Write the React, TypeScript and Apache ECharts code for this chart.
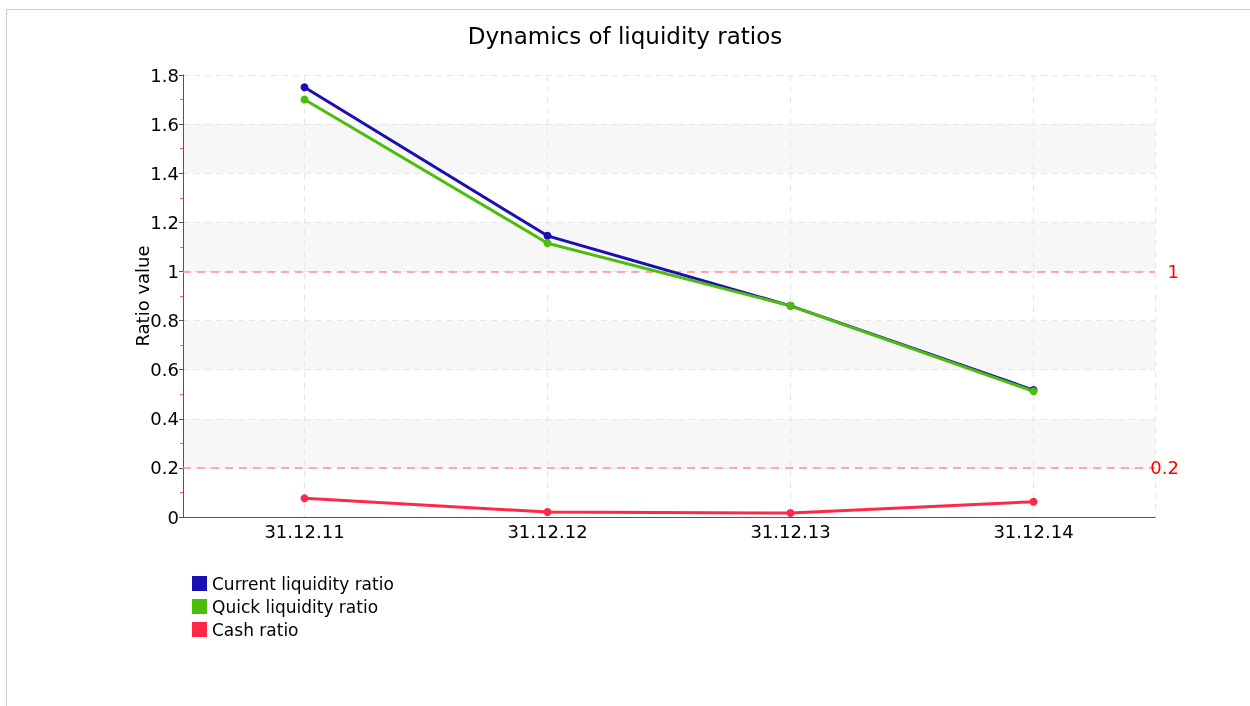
import React, { useEffect, useRef } from "react";
import * as echarts from "echarts";

const categories = ["31.12.11", "31.12.12", "31.12.13", "31.12.14"];
const currentRatio = [1.75, 1.145, 0.86, 0.517];
const quickRatio = [1.70, 1.115, 0.86, 0.512];
const cashRatio = [0.076, 0.02, 0.016, 0.062];
const thresholds = [1, 0.2];
const seriesNames = ["Current liquidity ratio", "Quick liquidity ratio", "Cash ratio"];
const colors = ["#1a0fb0", "#4dbd0c", "#ff2848"];

const FONT = "DejaVu Sans, Verdana, sans-serif";

export default function App() {
  const ref = useRef<HTMLDivElement>(null);
  useEffect(() => {
    if (!ref.current) return;
    const chart = echarts.init(ref.current, null, { renderer: "svg" });
    const datasets = [currentRatio, quickRatio, cashRatio];
    const series: any[] = datasets.map((d, i) => ({
      name: seriesNames[i],
      type: "line",
      data: d,
      symbol: "circle",
      symbolSize: 8,
      lineStyle: { width: 3, color: colors[i] },
      itemStyle: { color: colors[i] },
      z: 3,
    }));
    series[2].markLine = {
      silent: true,
      symbol: "none",
      lineStyle: { color: "#ff9090", type: [8, 6], width: 1.5, opacity: 1 },
      label: {
        position: "end",
        color: "#ff0000",
        fontSize: 18,
        fontFamily: FONT,
        align: "right",
        distance: 24,
        formatter: (p: any) => String(p.value),
      },
      data: thresholds.map((t) => ({ yAxis: t })),
      z: 2,
    };
    // Half-step placeholder categories used only to place vertical grid lines at category centres
    const halfSteps = categories.flatMap((c) => [c + "a", c + "b"]);
    chart.setOption({
      animation: false,
      backgroundColor: "transparent",
      textStyle: { fontFamily: FONT },
      title: {
        text: "Dynamics of liquidity ratios",
        left: "center",
        top: 19,
        textStyle: { fontSize: 23, fontWeight: "normal", color: "#000", fontFamily: FONT },
      },
      legend: {
        orient: "vertical",
        left: 187,
        top: 570,
        itemWidth: 15,
        itemHeight: 15,
        itemGap: 6,
        icon: "rect",
        textStyle: { fontSize: 17, color: "#000", fontFamily: FONT },
        data: seriesNames.map((n, i) => ({ name: n, itemStyle: { color: colors[i] } })),
      },
      grid: { left: 183, right: 95, top: 75, bottom: 189, containLabel: false },
      xAxis: [
        {
          type: "category",
          data: categories,
          boundaryGap: true,
          axisLine: { lineStyle: { color: "#555", width: 1 } },
          axisTick: { alignWithLabel: true, length: 5, lineStyle: { color: "#555" } },
          axisLabel: { fontSize: 18, color: "#000", fontFamily: FONT, margin: 5 },
          splitLine: { show: false },
          z: 5,
        },
        {
          type: "category",
          data: halfSteps,
          boundaryGap: true,
          position: "bottom",
          axisLine: { show: false },
          axisTick: { show: false },
          axisLabel: { show: false },
          splitLine: {
            show: true,
            interval: (index: number) => index % 2 === 1,
            lineStyle: { color: "#e6e6e6", type: [6, 5] },
          },
        },
      ],
      yAxis: {
        type: "value",
        min: 0,
        max: 1.8,
        interval: 0.2,
        name: "Ratio value",
        nameLocation: "middle",
        nameGap: 32,
        nameMoveOverlap: false,
        nameTextStyle: { fontSize: 18, color: "#000", fontFamily: FONT },
        axisLine: { show: true, lineStyle: { color: "#555", width: 1 } },
        axisTick: { show: true, length: 4, lineStyle: { color: "#555" } },
        minorTick: { show: true, splitNumber: 2, length: 3, lineStyle: { color: "#ff6060" } },
        axisLabel: {
          fontSize: 18,
          color: "#000",
          fontFamily: FONT,
          margin: 4,
          formatter: (v: number) => String(Math.round(v * 10) / 10),
        },
        splitLine: { show: true, lineStyle: { color: "#e6e6e6", type: [6, 5] } },
        splitArea: { show: true, areaStyle: { color: ["#ffffff", "#f7f7f7"] } },
      },
      series,
    });
    return () => chart.dispose();
  }, []);
  return (
    <>
      <div
        style={{
          position: "fixed",
          left: 6,
          top: 9,
          width: 1400,
          height: 900,
          border: "1px solid #cccccc",
          boxSizing: "border-box",
        }}
      />
      <div ref={ref} style={{ position: "fixed", left: 0, top: 0, width: 1250, height: 706 }} />
    </>
  );
}
